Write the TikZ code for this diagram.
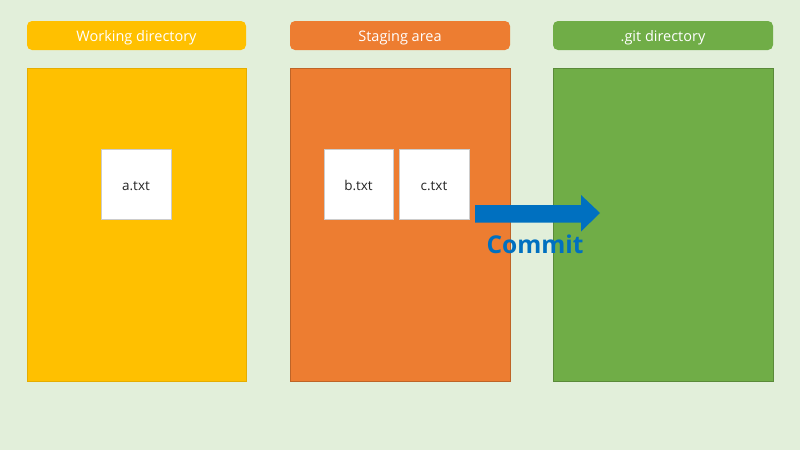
\documentclass[tikz,border=0pt]{standalone}
\usepackage{fontspec}
\setmainfont{Open Sans}
\definecolor{bg}{HTML}{E2EFDA}
\definecolor{gyel}{HTML}{FFC000}
\definecolor{gora}{HTML}{ED7D31}
\definecolor{ggrn}{HTML}{70AD47}
\definecolor{gblu}{HTML}{0070C0}
\begin{document}
\begin{tikzpicture}[x=1pt,y=-1pt,
  header/.style={anchor=base,inner sep=0pt,text=white,font=\fontsize{14.5}{16}\selectfont},
  panel/.style={line width=0.6pt},
  filebox/.style={fill=white,draw=black!20,line width=0.6pt},
  filetext/.style={anchor=base,inner sep=0pt,text=black!85,font=\fontsize{13.5}{15}\selectfont}]
\fill[bg] (0,0) rectangle (800,450);
\useasboundingbox (0,0) rectangle (800,450);
% headers
\fill[gyel,rounded corners=5pt] (27,21) rectangle (246,50);
\node[header] (h1) at (136.5,41.5) {Working directory};
\fill[gora,rounded corners=5pt] (290,21) rectangle (510,50);
\node[header] (h2) at (400,41.5) {Staging area};
\fill[ggrn,rounded corners=5pt] (553,21) rectangle (773,50);
\node[header] (h3) at (663,41.5) {.git directory};
% panels
\draw[panel,fill=gyel,draw=gyel!90!black] (27,68) rectangle (246,381);
\draw[panel,fill=gora,draw=gora!80!black] (290,68) rectangle (510,381);
\draw[panel,fill=ggrn,draw=ggrn!80!black] (553,68) rectangle (773,381);
% files
\draw[filebox] (101,149) rectangle (171,219);
\node[filetext] (a) at (136,190) {a.txt};
\draw[filebox] (324,149) rectangle (393,219);
\node[filetext] (b) at (358.5,190) {b.txt};
\draw[filebox] (399,149) rectangle (469,219);
\node[filetext] (c) at (434,190) {c.txt};
% arrow
\fill[gblu] (475,205) -- (581,205) -- (581,195) -- (600,213) -- (581,231.5) -- (581,222.5) -- (475,222.5) -- cycle;
\node[anchor=base,inner sep=0pt,text=gblu,font=\fontsize{24.5}{28}\selectfont\bfseries] (commit) at (535,253) {Commit};
\end{tikzpicture}
\end{document}
